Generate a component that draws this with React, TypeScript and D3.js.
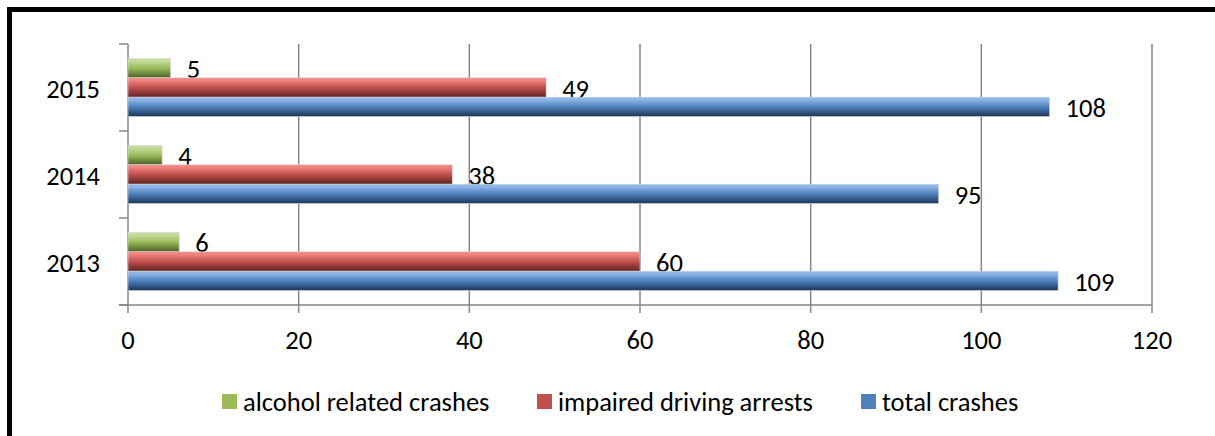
import React from "react";
import * as d3 from "d3";

const years = ["2015", "2014", "2013"];
const seriesNames = ["alcohol related crashes", "impaired driving arrests", "total crashes"];
const alcoholRelated = [5, 4, 6];
const impairedArrests = [49, 38, 60];
const totalCrashes = [108, 95, 109];
const xTicks = [0, 20, 40, 60, 80, 100, 120];

const colors = [
  { light: "#c6dc9c", mid: "#9bbb59", dark: "#4a5e24", swatch: "#9bbb59" },
  { light: "#f28582", mid: "#c0504d", dark: "#5e2321", swatch: "#c0504d" },
  { light: "#8fb6e8", mid: "#4f81bd", dark: "#1b3558", swatch: "#4f81bd" },
];

const W = 1215;
const H = 436;
const FONT = "Carlito, Calibri, 'Liberation Sans', Arial, sans-serif";
const FS = 26.5;

export default function App() {
  const seriesValues = [alcoholRelated, impairedArrests, totalCrashes];
  const x = d3.scaleLinear().domain([0, 120]).range([128, 1152]);
  const y = d3
    .scaleBand<string>()
    .domain(years)
    .range([44, 305])
    .paddingInner(1 / 3)
    .paddingOuter(1 / 6);
  const inner = d3
    .scaleBand<string>()
    .domain(seriesNames)
    .range([0, y.bandwidth()]);
  const step = y.step();
  const catBounds = [0, 1, 2, 3].map((i) => 44 + i * step);
  const axisColor = "#868686";

  return (
    <svg
      width={W}
      height={H}
      style={{ position: "absolute", left: 0, top: 0 }}
      fontFamily={FONT}
    >
      <defs>
        {colors.map((c, i) => (
          <linearGradient key={i} id={`g${i}`} x1="0" y1="0" x2="0" y2="1">
            <stop offset="0" stopColor={c.light} />
            <stop offset="0.12" stopColor={c.light} />
            <stop offset="0.5" stopColor={c.mid} />
            <stop offset="1" stopColor={c.dark} />
          </linearGradient>
        ))}
      </defs>
      <rect x={0} y={0} width={W} height={H} fill="#fff" />
      <rect
        x={9.5}
        y={9.5}
        width={1400}
        height={800}
        fill="none"
        stroke="#000"
        strokeWidth={5}
      />
      {xTicks.slice(1).map((t) => (
        <line
          key={t}
          x1={x(t)}
          x2={x(t)}
          y1={44}
          y2={305}
          stroke={axisColor}
          strokeWidth={1.5}
        />
      ))}
      <line x1={128} x2={128} y1={44} y2={305} stroke={axisColor} strokeWidth={1.5} />
      {catBounds.map((b, i) => (
        <line key={i} x1={119} x2={128} y1={b} y2={b} stroke={axisColor} strokeWidth={1.5} />
      ))}
      <line x1={119} x2={1152} y1={305} y2={305} stroke={axisColor} strokeWidth={1.5} />
      {xTicks.map((t) => (
        <line key={t} x1={x(t)} x2={x(t)} y1={305} y2={313} stroke={axisColor} strokeWidth={1.5} />
      ))}
      {xTicks.map((t) => (
        <text
          key={t}
          x={x(t)}
          y={340}
          textAnchor="middle"
          dominantBaseline="central"
          fontSize={FS}
          fill="#000"
        >
          {t}
        </text>
      ))}
      {years.map((yr) => (
        <text
          key={yr}
          x={100}
          y={(y(yr) as number) + y.bandwidth() / 2 + 1}
          textAnchor="end"
          dominantBaseline="central"
          fontSize={FS}
          fill="#000"
        >
          {yr}
        </text>
      ))}
      {years.map((yr, yi) =>
        seriesNames.map((s, si) => {
          const v = seriesValues[si][yi];
          const by = (y(yr) as number) + (inner(s) as number);
          const bh = inner.bandwidth();
          return (
            <g key={yr + s}>
              <rect
                x={x(0)}
                y={by}
                width={x(v) - x(0)}
                height={bh}
                fill={`url(#g${si})`}
                stroke="#d9d9d9"
                strokeWidth={0.6}
              />
              <text
                x={x(v) + 16}
                y={by + bh / 2 + 1}
                dominantBaseline="central"
                fontSize={FS}
                fill="#000"
              >
                {v}
              </text>
            </g>
          );
        })
      )}
      {[
        { sx: 222, tx: 243 },
        { sx: 537, tx: 558 },
        { sx: 861, tx: 882 },
      ].map((p, i) => (
        <g key={i}>
          <rect x={p.sx} y={394} width={15} height={15} fill={colors[i].swatch} />
          <text
            x={p.tx}
            y={402}
            dominantBaseline="central"
            fontSize={FS}
            fill="#000"
          >
            {seriesNames[i]}
          </text>
        </g>
      ))}
    </svg>
  );
}
